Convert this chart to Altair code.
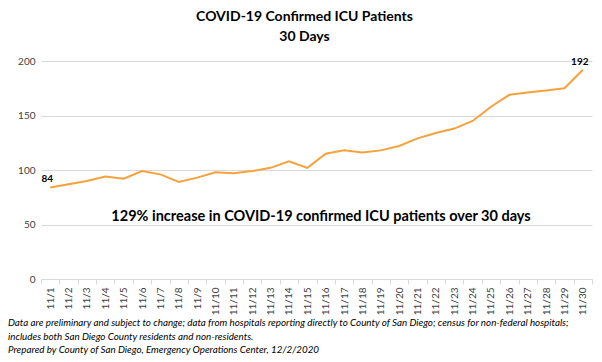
import altair as alt
import pandas as pd

dates = [f"11/{d}" for d in range(1, 31)]
patients = [84, 87, 90, 94, 92, 99, 96, 89, 93, 98, 97, 99, 102, 108, 102,
            115, 118, 116, 118, 122, 129, 134, 138, 145, 158, 169, 171, 173, 175, 192]

title_lines = ["COVID-19 Confirmed ICU Patients", "30 Days"]
annotation = "129% increase in COVID-19 confirmed ICU patients over 30 days"
footnote = [
    "Data are preliminary and subject to change; data from hospitals reporting directly to County of San Diego; census for non-federal hospitals;",
    "includes both San Diego County residents and non-residents.",
    "Prepared by County of San Diego, Emergency Operations Center, 12/2/2020",
]

df = pd.DataFrame({"date": dates, "patients": patients})
ends = df.iloc[[0, len(df) - 1]].copy()

FONT = "Lato"

x = alt.X("date:N", sort=dates, title=None,
          scale=alt.Scale(paddingInner=0, paddingOuter=0),
          axis=alt.Axis(labelAngle=-90, labelFontSize=10, labelColor="#404040",
                        labelFont=FONT, domainColor="#d9d9d9", tickColor="#d9d9d9",
                        tickBand="extent", tickSize=5, labelPadding=3))
y = alt.Y("patients:Q", title=None,
          scale=alt.Scale(domain=[0, 200]),
          axis=alt.Axis(values=[0, 50, 100, 150, 200], labelFontSize=10,
                        labelColor="#404040", labelFont=FONT, domain=False,
                        ticks=False, gridColor="#d9d9d9", labelPadding=6))

line = alt.Chart(df).mark_line(color="#F4A23C", strokeWidth=2).encode(x=x, y=y)

labels = alt.Chart(ends).mark_text(fontWeight="bold", fontSize=10, font=FONT,
                                   color="#000000", dy=-8, dx=-3).encode(
    x=x, y=y, text="patients:Q")

ann = alt.Chart(pd.DataFrame({"t": [annotation]})).mark_text(
    fontWeight="bold", fontSize=14.5, font=FONT, color="#000000").encode(
    x=alt.value(280), y=alt.value(156), text="t:N")

foot = alt.Chart(pd.DataFrame({"t": [footnote]})).mark_text(
    fontStyle="italic", fontSize=9.8, font=FONT, color="#000000",
    align="left", baseline="top", lineHeight=13.5).encode(
    x=alt.value(-33), y=alt.value(257), text="t")

chart = alt.layer(line, labels, ann, foot).properties(
    width=551, height=218,
    autosize=alt.AutoSizeParams(type="none"),
    padding={"left": 33, "top": 53, "right": 2, "bottom": 83},
    title=alt.TitleParams(text=title_lines, fontSize=14, fontWeight="bold",
                          font=FONT, color="#000000", anchor="middle",
                          dx=-12, offset=12, lineHeight=20),
).configure_view(stroke=None)

chart.save("out.html", embed_options={"renderer": "svg", "actions": False})
